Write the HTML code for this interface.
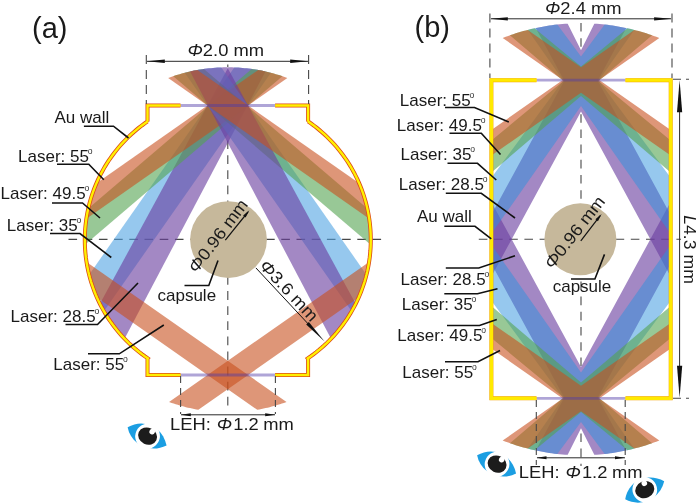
<!DOCTYPE html>
<html><head><meta charset="utf-8"><title>Hohlraum laser arrangement</title>
<style>
html,body{margin:0;padding:0;background:#fff;}
body{width:700px;height:503px;overflow:hidden;}
svg{display:block;will-change:transform;}
svg text{font-family:"Liberation Sans",sans-serif;fill:#1a1a1a;}
.it{font-style:italic;}
</style></head><body>
<svg width="700" height="503" viewBox="0 0 700 503">
<rect width="700" height="503" fill="#fff"/>
<line x1="68.5" y1="239.4" x2="384" y2="239.4" stroke="#474747" stroke-width="1.1" stroke-dasharray="8.6 6.6" stroke-dashoffset="0"/>
<line x1="227.8" y1="62" x2="227.8" y2="67.2" stroke="#474747" stroke-width="1.1" stroke-dasharray="8.8 6.3" stroke-dashoffset="12.5"/>
<line x1="227.8" y1="140.5" x2="227.8" y2="409" stroke="#474747" stroke-width="1.1" stroke-dasharray="8.8 6.3" stroke-dashoffset="0.4"/>
<line x1="478.8" y1="239.3" x2="681" y2="239.3" stroke="#474747" stroke-width="1.1" stroke-dasharray="8.6 6.6" stroke-dashoffset="0"/>
<line x1="581" y1="23" x2="581" y2="50" stroke="#474747" stroke-width="1.1" stroke-dasharray="8.6 6.6" stroke-dashoffset="0"/>
<line x1="581" y1="110" x2="581" y2="369" stroke="#474747" stroke-width="1.1" stroke-dasharray="8.6 6.6" stroke-dashoffset="11"/>
<line x1="581" y1="428.5" x2="581" y2="466" stroke="#474747" stroke-width="1.1" stroke-dasharray="8.6 6.6" stroke-dashoffset="10.3"/>
<g id="a-beams">
<polygon points="89.13,274.7 89.99,277.97 90.96,281.32 92.02,284.65 93.15,287.95 94.37,291.22 95.66,294.46 97.03,297.67 98.48,300.85 100.01,303.98 101.62,307.08 103.3,310.14 103.94,311.24 270.91,72.78 269.71,72.47 267.66,71.97 265.59,71.49 263.53,71.04 261.45,70.61 259.37,70.21 257.29,69.84 255.2,69.49 253.11,69.17 251.02,68.87 248.92,68.6 246.81,68.35 244.71,68.13 242.6,67.94 240.49,67.77 238.38,67.62 236.26,67.51 234.26,67.42" fill="#50a3e3" fill-opacity="0.6"/>
<polygon points="99.93,303.81 100.01,303.98 101.62,307.08 103.3,310.14 105.05,313.16 106.88,316.13 108.78,319.06 110.75,321.94 112.78,324.77 114.89,327.55 117.07,330.28 119.31,332.96 121.61,335.58 123.98,338.14 124.54,338.71 265.45,71.46 263.53,71.04 261.45,70.61 259.37,70.21 257.29,69.84 255.2,69.49 253.11,69.17 251.02,68.87 248.92,68.6 246.81,68.35 244.71,68.13 242.6,67.94 240.49,67.77 238.38,67.62 236.26,67.51 234.15,67.42 232.03,67.35 229.92,67.31 228.34,67.3" fill="#6a3fa0" fill-opacity="0.62"/>
<polygon points="88.26,208.53 88.18,208.89 87.47,212.3 86.84,215.74 86.29,219.18 85.83,222.64 85.46,226.11 85.16,229.59 84.96,233.07 84.84,236.56 84.8,240.05 84.85,243.54 84.9,244.8 282.36,76.16 281.91,76.01 279.9,75.35 277.87,74.73 275.84,74.13 273.81,73.55 271.76,73 269.71,72.47 267.66,71.97 265.59,71.49 263.53,71.04 261.45,70.61 259.37,70.21 257.29,69.84 255.2,69.49 253.11,69.17 251.68,68.96" fill="#53a350" fill-opacity="0.6"/>
<polygon points="96.43,183.35 95.47,185.6 94.19,188.85 92.98,192.12 91.86,195.43 90.82,198.76 89.86,202.11 88.98,205.49 88.18,208.89 87.47,212.3 86.84,215.74 86.38,218.67 287.39,77.92 285.91,77.38 283.92,76.68 281.91,76.01 279.9,75.35 277.87,74.73 275.84,74.13 273.81,73.55 271.76,73 269.71,72.47 267.66,71.97 265.59,71.49 263.53,71.04 261.45,70.61 259.37,70.21 258.28,70.02" fill="#c8501e" fill-opacity="0.6"/>
<polygon points="221.34,67.42 219.34,67.51 217.22,67.62 215.11,67.77 213,67.94 210.89,68.13 208.79,68.35 206.68,68.6 204.58,68.87 202.49,69.17 200.4,69.49 198.31,69.84 196.23,70.21 194.15,70.61 192.07,71.04 190.01,71.49 187.94,71.97 185.89,72.47 184.69,72.78 351.66,311.24 352.3,310.14 353.98,307.08 355.59,303.98 357.12,300.85 358.57,297.67 359.94,294.46 361.23,291.22 362.45,287.95 363.58,284.65 364.64,281.32 365.61,277.97 366.47,274.7" fill="#50a3e3" fill-opacity="0.6"/>
<polygon points="203.92,68.96 202.49,69.17 200.4,69.49 198.31,69.84 196.23,70.21 194.15,70.61 192.07,71.04 190.01,71.49 187.94,71.97 185.89,72.47 183.84,73 181.79,73.55 179.76,74.13 177.73,74.73 175.7,75.35 173.69,76.01 173.24,76.16 370.7,244.8 370.75,243.54 370.8,240.05 370.76,236.56 370.64,233.07 370.44,229.59 370.14,226.11 369.77,222.64 369.31,219.18 368.76,215.74 368.13,212.3 367.42,208.89 367.34,208.53" fill="#53a350" fill-opacity="0.6"/>
<polygon points="227.26,67.3 225.68,67.31 223.57,67.35 221.45,67.42 219.34,67.51 217.22,67.62 215.11,67.77 213,67.94 210.89,68.13 208.79,68.35 206.68,68.6 204.58,68.87 202.49,69.17 200.4,69.49 198.31,69.84 196.23,70.21 194.15,70.61 192.07,71.04 190.15,71.46 331.06,338.71 331.62,338.14 333.99,335.58 336.29,332.96 338.53,330.28 340.71,327.55 342.82,324.77 344.85,321.94 346.82,319.06 348.72,316.13 350.55,313.16 352.3,310.14 353.98,307.08 355.59,303.98 355.67,303.81" fill="#6a3fa0" fill-opacity="0.62"/>
<polygon points="197.32,70.02 196.23,70.21 194.15,70.61 192.07,71.04 190.01,71.49 187.94,71.97 185.89,72.47 183.84,73 181.79,73.55 179.76,74.13 177.73,74.73 175.7,75.35 173.69,76.01 171.68,76.68 169.69,77.38 168.21,77.92 369.22,218.67 368.76,215.74 368.13,212.3 367.42,208.89 366.62,205.49 365.74,202.11 364.78,198.76 363.74,195.43 362.62,192.12 361.41,188.85 360.13,185.6 359.17,183.35" fill="#c8501e" fill-opacity="0.6"/>
<polygon points="257.25,409.77 257.29,409.76 259.37,409.39 261.45,408.99 263.53,408.56 265.59,408.11 267.66,407.63 269.71,407.13 271.76,406.6 273.81,406.05 275.84,405.47 277.87,404.87 279.9,404.25 281.91,403.59 283.92,402.92 285.91,402.22 286.54,401.99 86.53,261.94 86.92,264.36 87.57,267.79 88.29,271.2 89.1,274.6 89.99,277.97 90.96,281.32 92.02,284.65 93.15,287.95 94.37,291.22 95.66,294.46 96.98,297.54" fill="#c8501e" fill-opacity="0.6"/>
<polygon points="358.62,297.54 359.94,294.46 361.23,291.22 362.45,287.95 363.58,284.65 364.64,281.32 365.61,277.97 366.5,274.6 367.31,271.2 368.03,267.79 368.68,264.36 369.07,261.94 169.06,401.99 169.69,402.22 171.68,402.92 173.69,403.59 175.7,404.25 177.73,404.87 179.76,405.47 181.79,406.05 183.84,406.6 185.89,407.13 187.94,407.63 190.01,408.11 192.07,408.56 194.15,408.99 196.23,409.39 198.31,409.76 198.35,409.77" fill="#c8501e" fill-opacity="0.6"/>
</g>
<line x1="180.5" y1="105.5" x2="275.1" y2="105.5" stroke="#513ba8" stroke-width="2.8" stroke-opacity="0.46"/>
<line x1="180.5" y1="375" x2="275.1" y2="375" stroke="#513ba8" stroke-width="2.8" stroke-opacity="0.46"/>
<path d="M180.5 105.5 L147.5 105.5 L147.5 121.5 L147.49 121.48 L144.62 123.48 L141.81 125.54 L139.05 127.67 L136.34 129.87 L133.68 132.14 L131.08 134.47 L128.54 136.86 L126.06 139.31 L123.64 141.82 L121.28 144.4 L118.98 147.02 L116.75 149.71 L114.58 152.44 L112.49 155.23 L110.46 158.07 L108.5 160.96 L106.61 163.89 L104.79 166.87 L103.05 169.9 L101.38 172.96 L99.79 176.07 L98.27 179.21 L96.83 182.39 L95.47 185.6 L94.19 188.85 L92.98 192.12 L91.86 195.43 L90.82 198.76 L89.86 202.11 L88.98 205.49 L88.18 208.89 L87.47 212.3 L86.84 215.74 L86.29 219.18 L85.83 222.64 L85.46 226.11 L85.16 229.59 L84.96 233.07 L84.84 236.56 L84.8 240.05 L84.85 243.54 L84.98 247.03 L85.2 250.51 L85.51 253.99 L85.89 257.46 L86.37 260.91 L86.92 264.36 L87.57 267.79 L88.29 271.2 L89.1 274.6 L89.99 277.97 L90.96 281.32 L92.02 284.65 L93.15 287.95 L94.37 291.22 L95.66 294.46 L97.03 297.67 L98.48 300.85 L100.01 303.98 L101.62 307.08 L103.3 310.14 L105.05 313.16 L106.88 316.13 L108.78 319.06 L110.75 321.94 L112.78 324.77 L114.89 327.55 L117.07 330.28 L119.31 332.96 L121.61 335.58 L123.98 338.14 L126.41 340.65 L128.91 343.09 L131.46 345.47 L134.06 347.79 L136.73 350.05 L139.44 352.24 L142.21 354.36 L145.03 356.41 L147.9 358.4 L147.5 359 L147.5 375 L180.5 375" fill="none" stroke="#dc4a18" stroke-width="4.0" stroke-linejoin="miter"/>
<path d="M275.1 105.5 L308.1 105.5 L308.1 121.5 L308.11 121.48 L310.98 123.48 L313.79 125.54 L316.55 127.67 L319.26 129.87 L321.92 132.14 L324.52 134.47 L327.06 136.86 L329.54 139.31 L331.96 141.82 L334.32 144.4 L336.62 147.02 L338.85 149.71 L341.02 152.44 L343.11 155.23 L345.14 158.07 L347.1 160.96 L348.99 163.89 L350.81 166.87 L352.55 169.9 L354.22 172.96 L355.81 176.07 L357.33 179.21 L358.77 182.39 L360.13 185.6 L361.41 188.85 L362.62 192.12 L363.74 195.43 L364.78 198.76 L365.74 202.11 L366.62 205.49 L367.42 208.89 L368.13 212.3 L368.76 215.74 L369.31 219.18 L369.77 222.64 L370.14 226.11 L370.44 229.59 L370.64 233.07 L370.76 236.56 L370.8 240.05 L370.75 243.54 L370.62 247.03 L370.4 250.51 L370.09 253.99 L369.71 257.46 L369.23 260.91 L368.68 264.36 L368.03 267.79 L367.31 271.2 L366.5 274.6 L365.61 277.97 L364.64 281.32 L363.58 284.65 L362.45 287.95 L361.23 291.22 L359.94 294.46 L358.57 297.67 L357.12 300.85 L355.59 303.98 L353.98 307.08 L352.3 310.14 L350.55 313.16 L348.72 316.13 L346.82 319.06 L344.85 321.94 L342.82 324.77 L340.71 327.55 L338.53 330.28 L336.29 332.96 L333.99 335.58 L331.62 338.14 L329.19 340.65 L326.69 343.09 L324.14 345.47 L321.54 347.79 L318.87 350.05 L316.16 352.24 L313.39 354.36 L310.57 356.41 L307.7 358.4 L308.1 359 L308.1 375 L275.1 375" fill="none" stroke="#dc4a18" stroke-width="4.0" stroke-linejoin="miter"/>
<path d="M180.5 105.5 L147.5 105.5 L147.5 121.5 L147.49 121.48 L144.62 123.48 L141.81 125.54 L139.05 127.67 L136.34 129.87 L133.68 132.14 L131.08 134.47 L128.54 136.86 L126.06 139.31 L123.64 141.82 L121.28 144.4 L118.98 147.02 L116.75 149.71 L114.58 152.44 L112.49 155.23 L110.46 158.07 L108.5 160.96 L106.61 163.89 L104.79 166.87 L103.05 169.9 L101.38 172.96 L99.79 176.07 L98.27 179.21 L96.83 182.39 L95.47 185.6 L94.19 188.85 L92.98 192.12 L91.86 195.43 L90.82 198.76 L89.86 202.11 L88.98 205.49 L88.18 208.89 L87.47 212.3 L86.84 215.74 L86.29 219.18 L85.83 222.64 L85.46 226.11 L85.16 229.59 L84.96 233.07 L84.84 236.56 L84.8 240.05 L84.85 243.54 L84.98 247.03 L85.2 250.51 L85.51 253.99 L85.89 257.46 L86.37 260.91 L86.92 264.36 L87.57 267.79 L88.29 271.2 L89.1 274.6 L89.99 277.97 L90.96 281.32 L92.02 284.65 L93.15 287.95 L94.37 291.22 L95.66 294.46 L97.03 297.67 L98.48 300.85 L100.01 303.98 L101.62 307.08 L103.3 310.14 L105.05 313.16 L106.88 316.13 L108.78 319.06 L110.75 321.94 L112.78 324.77 L114.89 327.55 L117.07 330.28 L119.31 332.96 L121.61 335.58 L123.98 338.14 L126.41 340.65 L128.91 343.09 L131.46 345.47 L134.06 347.79 L136.73 350.05 L139.44 352.24 L142.21 354.36 L145.03 356.41 L147.9 358.4 L147.5 359 L147.5 375 L180.5 375" fill="none" stroke="#fff000" stroke-width="2.4" stroke-linejoin="miter"/>
<path d="M275.1 105.5 L308.1 105.5 L308.1 121.5 L308.11 121.48 L310.98 123.48 L313.79 125.54 L316.55 127.67 L319.26 129.87 L321.92 132.14 L324.52 134.47 L327.06 136.86 L329.54 139.31 L331.96 141.82 L334.32 144.4 L336.62 147.02 L338.85 149.71 L341.02 152.44 L343.11 155.23 L345.14 158.07 L347.1 160.96 L348.99 163.89 L350.81 166.87 L352.55 169.9 L354.22 172.96 L355.81 176.07 L357.33 179.21 L358.77 182.39 L360.13 185.6 L361.41 188.85 L362.62 192.12 L363.74 195.43 L364.78 198.76 L365.74 202.11 L366.62 205.49 L367.42 208.89 L368.13 212.3 L368.76 215.74 L369.31 219.18 L369.77 222.64 L370.14 226.11 L370.44 229.59 L370.64 233.07 L370.76 236.56 L370.8 240.05 L370.75 243.54 L370.62 247.03 L370.4 250.51 L370.09 253.99 L369.71 257.46 L369.23 260.91 L368.68 264.36 L368.03 267.79 L367.31 271.2 L366.5 274.6 L365.61 277.97 L364.64 281.32 L363.58 284.65 L362.45 287.95 L361.23 291.22 L359.94 294.46 L358.57 297.67 L357.12 300.85 L355.59 303.98 L353.98 307.08 L352.3 310.14 L350.55 313.16 L348.72 316.13 L346.82 319.06 L344.85 321.94 L342.82 324.77 L340.71 327.55 L338.53 330.28 L336.29 332.96 L333.99 335.58 L331.62 338.14 L329.19 340.65 L326.69 343.09 L324.14 345.47 L321.54 347.79 L318.87 350.05 L316.16 352.24 L313.39 354.36 L310.57 356.41 L307.7 358.4 L308.1 359 L308.1 375 L275.1 375" fill="none" stroke="#fff000" stroke-width="2.4" stroke-linejoin="miter"/>
<g id="b-beams">
<polygon points="491.4,214.81 491.4,276.55 581,111.53 670.7,276.74 670.7,215 597.76,80.66 598.01,80.2 626.32,28.06 625.74,27.93 623.14,27.4 620.54,26.9 617.93,26.43 615.31,25.99 612.69,25.59 610.07,25.22 607.44,24.87 604.81,24.57 602.17,24.29 599.53,24.05 596.89,23.84 594.32,23.66 581,50.15 567.68,23.66 565.11,23.84 562.47,24.05 559.83,24.29 557.19,24.57 554.56,24.87 551.93,25.22 549.31,25.59 546.69,25.99 544.07,26.43 541.46,26.9 538.86,27.4 536.26,27.93 535.68,28.06 563.99,80.2 564.24,80.66" fill="#6a3fa0" fill-opacity="0.62"/>
<polygon points="535.68,450.44 536.26,450.57 538.86,451.1 541.46,451.6 544.07,452.07 546.69,452.51 549.31,452.91 551.93,453.28 554.56,453.63 557.19,453.93 559.83,454.21 562.47,454.45 565.11,454.66 567.68,454.84 581,428.35 594.32,454.84 596.89,454.66 599.53,454.45 602.17,454.21 604.81,453.93 607.44,453.63 610.07,453.28 612.69,452.91 615.31,452.51 617.93,452.07 620.54,451.6 623.14,451.1 625.74,450.57 626.32,450.44 598.01,398.3 597.76,397.84 670.7,263.5 670.7,201.76 581,366.97 491.4,201.95 491.4,263.69 564.24,397.84 563.99,398.3" fill="#6a3fa0" fill-opacity="0.62"/>
<polygon points="491.4,233.87 581,105.91 670.7,234.01 670.7,177.77 598.76,80.55 634.21,29.91 633.48,29.72 630.91,29.09 628.33,28.5 625.74,27.93 623.14,27.4 620.54,26.9 617.93,26.43 615.31,25.99 612.69,25.59 610.07,25.22 607.44,24.87 604.81,24.57 604.68,24.55 581,56.55 557.32,24.55 557.19,24.57 554.56,24.87 551.93,25.22 549.31,25.59 546.69,25.99 544.07,26.43 541.46,26.9 538.86,27.4 536.26,27.93 533.67,28.5 531.09,29.09 528.52,29.72 527.79,29.91 563.24,80.55 491.4,177.64" fill="#2d91dd" fill-opacity="0.5"/>
<polygon points="670.7,244.49 581,372.59 491.4,244.63 491.4,300.86 563.24,397.95 527.79,448.59 528.52,448.78 531.09,449.41 533.67,450 536.26,450.57 538.86,451.1 541.46,451.6 544.07,452.07 546.69,452.51 549.31,452.91 551.93,453.28 554.56,453.63 557.19,453.93 557.32,453.95 581,421.95 604.68,453.95 604.81,453.93 607.44,453.63 610.07,453.28 612.69,452.91 615.31,452.51 617.93,452.07 620.54,451.6 623.14,451.1 625.74,450.57 628.33,450 630.91,449.41 633.48,448.78 634.21,448.59 598.76,397.95 670.7,300.73" fill="#2d91dd" fill-opacity="0.5"/>
<polygon points="491.4,172.53 581,96 670.7,172.61 670.7,140.54 598.52,81.04 652.09,35.29 651.27,35 648.76,34.15 646.23,33.34 643.7,32.55 641.16,31.8 638.61,31.07 636.05,30.38 633.48,29.72 630.91,29.09 628.33,28.5 627.45,28.31 581,66.6 534.55,28.31 533.67,28.5 531.09,29.09 528.52,29.72 525.95,30.38 523.39,31.07 520.84,31.8 518.3,32.55 515.77,33.34 513.24,34.15 510.73,35 509.91,35.29 563.48,81.04 491.4,140.46" fill="#53a350" fill-opacity="0.6"/>
<polygon points="670.7,305.89 581,382.5 491.4,305.97 491.4,338.04 563.48,397.46 509.91,443.21 510.73,443.5 513.24,444.35 515.77,445.16 518.3,445.95 520.84,446.7 523.39,447.43 525.95,448.12 528.52,448.78 531.09,449.41 533.67,450 534.55,450.19 581,411.9 627.45,450.19 628.33,450 630.91,449.41 633.48,448.78 636.05,448.12 638.61,447.43 641.16,446.7 643.7,445.95 646.23,445.16 648.76,444.35 651.27,443.5 652.09,443.21 598.52,397.46 670.7,337.96" fill="#53a350" fill-opacity="0.6"/>
<polygon points="491.4,155.54 581,92.8 670.7,155.61 670.7,130.05 599.25,80.02 659.33,37.96 658.74,37.72 656.26,36.78 653.77,35.88 651.27,35 648.76,34.15 646.23,33.34 643.7,32.55 641.16,31.8 638.61,31.07 636.05,30.38 634.29,29.93 581,67.25 527.71,29.93 525.95,30.38 523.39,31.07 520.84,31.8 518.3,32.55 515.77,33.34 513.24,34.15 510.73,35 508.23,35.88 505.74,36.78 503.26,37.72 502.67,37.96 562.75,80.02 491.4,129.98" fill="#c8501e" fill-opacity="0.6"/>
<polygon points="670.7,322.89 581,385.7 491.4,322.96 491.4,348.52 562.75,398.48 502.67,440.54 503.26,440.78 505.74,441.72 508.23,442.62 510.73,443.5 513.24,444.35 515.77,445.16 518.3,445.95 520.84,446.7 523.39,447.43 525.95,448.12 527.71,448.57 581,411.25 634.29,448.57 636.05,448.12 638.61,447.43 641.16,446.7 643.7,445.95 646.23,445.16 648.76,444.35 651.27,443.5 653.77,442.62 656.26,441.72 658.74,440.78 659.33,440.54 599.25,398.48 670.7,348.45" fill="#c8501e" fill-opacity="0.6"/>
</g>
<line x1="536.5" y1="80.2" x2="625.5" y2="80.2" stroke="#513ba8" stroke-width="2.8" stroke-opacity="0.46"/>
<line x1="536.5" y1="398.3" x2="625.5" y2="398.3" stroke="#513ba8" stroke-width="2.8" stroke-opacity="0.46"/>
<path d="M536.5 80.2 L491.4 80.2 L491.4 398.3 L536.5 398.3" fill="none" stroke="#f2a100" stroke-width="4.0" stroke-linejoin="miter"/>
<path d="M625.5 80.2 L670.7 80.2 L670.7 398.3 L625.5 398.3" fill="none" stroke="#f2a100" stroke-width="4.0" stroke-linejoin="miter"/>
<path d="M536.5 80.2 L491.4 80.2 L491.4 398.3 L536.5 398.3" fill="none" stroke="#ffea00" stroke-width="3.2" stroke-linejoin="miter"/>
<path d="M625.5 80.2 L670.7 80.2 L670.7 398.3 L625.5 398.3" fill="none" stroke="#ffea00" stroke-width="3.2" stroke-linejoin="miter"/>
<line x1="146.3" y1="55" x2="146.3" y2="104" stroke="#474747" stroke-width="1.1" stroke-dasharray="9 6" stroke-dashoffset="0"/>
<line x1="308.6" y1="55" x2="308.6" y2="104" stroke="#474747" stroke-width="1.1" stroke-dasharray="9 6" stroke-dashoffset="0"/>
<line x1="147" y1="61.3" x2="308" y2="61.3" stroke="#2a2a2a" stroke-width="1.0"/>
<polygon points="146.8,61.3 164.8,59.6 164.8,63" fill="#111"/>
<polygon points="308.2,61.3 290.2,63 290.2,59.6" fill="#111"/>
<text transform="translate(187.5,55.6) scale(1.08,1)" font-size="17" text-anchor="start" ><tspan class="it">&#934;</tspan>2.0 mm</text>
<line x1="180.6" y1="376" x2="180.6" y2="414" stroke="#474747" stroke-width="1.1" stroke-dasharray="7 5" stroke-dashoffset="0"/>
<line x1="275.4" y1="376" x2="275.4" y2="414" stroke="#474747" stroke-width="1.1" stroke-dasharray="7 5" stroke-dashoffset="0"/>
<line x1="181" y1="414.8" x2="275" y2="414.8" stroke="#2a2a2a" stroke-width="1.0"/>
<polygon points="180.8,414.8 190.8,413.3 190.8,416.3" fill="#111"/>
<polygon points="275.2,414.8 265.2,416.3 265.2,413.3" fill="#111"/>
<text transform="translate(170.1,430) scale(1.08,1)" font-size="17" text-anchor="start" >LEH:</text>
<text transform="translate(216.8,430) scale(1.08,1)" font-size="17" text-anchor="start" ><tspan class="it">&#934;</tspan></text>
<text transform="translate(233.2,430) scale(1.08,1)" font-size="17" text-anchor="start" >1.2</text>
<text transform="translate(263.2,430) scale(1.08,1)" font-size="17" text-anchor="start" >mm</text>
<circle cx="228.5" cy="239.6" r="38.4" fill="#c6b89b"/>
<line x1="225.3" y1="240.1" x2="248" y2="212" stroke="#111" stroke-width="1.2"/>
<polygon points="249.4,210.2 245.62,217.43 243.13,215.42" fill="#111"/>
<text transform="translate(196.6,274.0) rotate(-53) scale(1.08,1)" font-size="17"><tspan class="it">&#934;</tspan>0.96 mm</text>
<line x1="255.9" y1="267.9" x2="312" y2="328" stroke="#111" stroke-width="1.0"/>
<polygon points="324.6,341.6 306.2,324.58 308.83,322.12" fill="#111"/>
<text transform="translate(258.6,266.6) rotate(47) scale(1.08,1)" font-size="17"><tspan class="it">&#934;</tspan>3.6 mm</text>
<text x="32" y="37.5" font-size="29" text-anchor="start" >(a)</text>
<text x="54.5" y="122.5" font-size="17" text-anchor="start" >Au wall</text>
<polyline points="83.9,126.2 113.5,126.2 128.5,138" fill="none" stroke="#111" stroke-width="1.6" stroke-linejoin="miter"/>
<text x="18.1" y="162" font-size="17" text-anchor="start" >Laser: 55<tspan font-size="8.6" dy="-8" dx="-1.2" fill="#333">o</tspan></text>
<polyline points="57,164.3 88.8,164.3 103.8,179.8" fill="none" stroke="#111" stroke-width="1.6" stroke-linejoin="miter"/>
<text x="0.6" y="199.2" font-size="17" text-anchor="start" >Laser: 49.5<tspan font-size="8.6" dy="-8" dx="-1.2" fill="#333">o</tspan></text>
<polyline points="52,203 82.5,203 100,218" fill="none" stroke="#111" stroke-width="1.6" stroke-linejoin="miter"/>
<text x="6.8" y="230.7" font-size="17" text-anchor="start" >Laser: 35<tspan font-size="8.6" dy="-8" dx="-1.2" fill="#333">o</tspan></text>
<polyline points="50,233.5 80,233.5 111.3,257.5" fill="none" stroke="#111" stroke-width="1.6" stroke-linejoin="miter"/>
<text x="10.6" y="321.5" font-size="17" text-anchor="start" >Laser: 28.5<tspan font-size="8.6" dy="-8" dx="-1.2" fill="#333">o</tspan></text>
<polyline points="65.5,324.5 97.5,324.5 138,283" fill="none" stroke="#111" stroke-width="1.6" stroke-linejoin="miter"/>
<text x="53.3" y="369.7" font-size="17" text-anchor="start" >Laser: 55<tspan font-size="8.6" dy="-8" dx="-1.2" fill="#333">o</tspan></text>
<polyline points="88,353.8 119.3,353.8 163.8,325" fill="none" stroke="#111" stroke-width="1.6" stroke-linejoin="miter"/>
<text x="157.5" y="300.5" font-size="17" text-anchor="start" >capsule</text>
<polyline points="184.5,285.5 208.8,285.5 218,260.5" fill="none" stroke="#111" stroke-width="1.6" stroke-linejoin="miter"/>
<line x1="489.9" y1="13.5" x2="489.9" y2="78" stroke="#474747" stroke-width="1.1" stroke-dasharray="9 6" stroke-dashoffset="0"/>
<line x1="672" y1="13.5" x2="672" y2="78" stroke="#474747" stroke-width="1.1" stroke-dasharray="9 6" stroke-dashoffset="0"/>
<line x1="491" y1="18.8" x2="671" y2="18.8" stroke="#2a2a2a" stroke-width="1.0"/>
<polygon points="490.3,18.8 507.8,17.2 507.8,20.4" fill="#111"/>
<polygon points="671.6,18.8 654.1,20.4 654.1,17.2" fill="#111"/>
<text transform="translate(545,14.2) scale(1.08,1)" font-size="17" text-anchor="start" ><tspan class="it">&#934;</tspan>2.4 mm</text>
<line x1="673" y1="79.3" x2="689" y2="79.3" stroke="#474747" stroke-width="1.1" stroke-dasharray="8 5" stroke-dashoffset="0"/>
<line x1="673" y1="398.3" x2="689" y2="398.3" stroke="#474747" stroke-width="1.1" stroke-dasharray="8 5" stroke-dashoffset="0"/>
<line x1="679.6" y1="100" x2="679.6" y2="380" stroke="#2a2a2a" stroke-width="1.0"/>
<polygon points="679.6,80.3 682.2,112.3 677,112.3" fill="#111"/>
<polygon points="679.6,397.8 677,365.8 682.2,365.8" fill="#111"/>
<text transform="translate(684.4,215.2) rotate(90) scale(1.04,1)" font-size="17"><tspan class="it">L</tspan>4.3 mm</text>
<line x1="536.3" y1="400" x2="536.3" y2="465" stroke="#474747" stroke-width="1.1" stroke-dasharray="7 5" stroke-dashoffset="0"/>
<line x1="625.2" y1="400" x2="625.2" y2="465" stroke="#474747" stroke-width="1.1" stroke-dasharray="7 5" stroke-dashoffset="0"/>
<line x1="537" y1="457.8" x2="625" y2="457.8" stroke="#2a2a2a" stroke-width="1.0"/>
<polygon points="536.5,457.8 546.5,456.3 546.5,459.3" fill="#111"/>
<polygon points="625,457.8 615,459.3 615,456.3" fill="#111"/>
<text transform="translate(518.8,478.3) scale(1.08,1)" font-size="17" text-anchor="start" >LEH:</text>
<text transform="translate(565.5,478.3) scale(1.08,1)" font-size="17" text-anchor="start" ><tspan class="it">&#934;</tspan></text>
<text transform="translate(581.9,478.3) scale(1.08,1)" font-size="17" text-anchor="start" >1.2</text>
<text transform="translate(611.9,478.3) scale(1.08,1)" font-size="17" text-anchor="start" >mm</text>
<circle cx="580.4" cy="239.2" r="36" fill="#c6b89b"/>
<line x1="580.8" y1="240.8" x2="600.2" y2="215.7" stroke="#111" stroke-width="1.2"/>
<polygon points="601.6,213.9 597.97,221.21 595.44,219.25" fill="#111"/>
<text transform="translate(552.5,270) rotate(-52) scale(1.08,1)" font-size="17"><tspan class="it">&#934;</tspan>0.96 mm</text>
<text x="552.7" y="292.1" font-size="17" text-anchor="start" >capsule</text>
<polyline points="571,279 594.9,279 604.5,254.4" fill="none" stroke="#111" stroke-width="1.6" stroke-linejoin="miter"/>
<text x="414.5" y="37" font-size="29" text-anchor="start" >(b)</text>
<text x="399.8" y="105.7" font-size="17" text-anchor="start" >Laser: 55<tspan font-size="8.6" dy="-8" dx="-1.2" fill="#333">o</tspan></text>
<polyline points="445,107.5 474.5,107.5 508.8,122" fill="none" stroke="#111" stroke-width="1.6" stroke-linejoin="miter"/>
<text x="396.8" y="130.7" font-size="17" text-anchor="start" >Laser: 49.5<tspan font-size="8.6" dy="-8" dx="-1.2" fill="#333">o</tspan></text>
<polyline points="449.5,133.3 481.3,133.3 500.5,154.5" fill="none" stroke="#111" stroke-width="1.6" stroke-linejoin="miter"/>
<text x="400.6" y="160.2" font-size="17" text-anchor="start" >Laser: 35<tspan font-size="8.6" dy="-8" dx="-1.2" fill="#333">o</tspan></text>
<polyline points="447.5,163.3 477.5,163.3 496.3,180" fill="none" stroke="#111" stroke-width="1.6" stroke-linejoin="miter"/>
<text x="398.8" y="189.7" font-size="17" text-anchor="start" >Laser: 28.5<tspan font-size="8.6" dy="-8" dx="-1.2" fill="#333">o</tspan></text>
<polyline points="445.8,193.3 481.3,193.3 515,218" fill="none" stroke="#111" stroke-width="1.6" stroke-linejoin="miter"/>
<text x="417" y="222" font-size="17" text-anchor="start" >Au wall</text>
<polyline points="444.3,226.3 475,226.3 491.3,238.8" fill="none" stroke="#111" stroke-width="1.6" stroke-linejoin="miter"/>
<text x="400.6" y="284.5" font-size="17" text-anchor="start" >Laser: 28.5<tspan font-size="8.6" dy="-8" dx="-1.2" fill="#333">o</tspan></text>
<polyline points="445.8,268 478.8,268 515,255.8" fill="none" stroke="#111" stroke-width="1.6" stroke-linejoin="miter"/>
<text x="401.8" y="310.2" font-size="17" text-anchor="start" >Laser: 35<tspan font-size="8.6" dy="-8" dx="-1.2" fill="#333">o</tspan></text>
<polyline points="444.3,293.8 477.5,293.8 497.5,288.8" fill="none" stroke="#111" stroke-width="1.6" stroke-linejoin="miter"/>
<text x="397.3" y="341" font-size="17" text-anchor="start" >Laser: 49.5<tspan font-size="8.6" dy="-8" dx="-1.2" fill="#333">o</tspan></text>
<polyline points="447,325.5 479.5,325.5 496.8,319.5" fill="none" stroke="#111" stroke-width="1.6" stroke-linejoin="miter"/>
<text x="402.3" y="377.7" font-size="17" text-anchor="start" >Laser: 55<tspan font-size="8.6" dy="-8" dx="-1.2" fill="#333">o</tspan></text>
<polyline points="445,361.8 478,361.8 500,350.5" fill="none" stroke="#111" stroke-width="1.6" stroke-linejoin="miter"/>
<g transform="translate(147.3,436) rotate(25) scale(1,1)">
<path d="M-21.5,0.5 C-11,-14.9 10,-14.9 21.5,0.5 C10,14.9 -11,14.9 -21.5,0.5 Z" fill="#1b9ee2"/>
<ellipse cx="0.3" cy="0" rx="12.3" ry="12.6" fill="#fff"/>
<ellipse cx="0.3" cy="0" rx="9.7" ry="8.4" fill="#1c1c1c"/>
<circle cx="2.6" cy="-6.0" r="2.8" fill="#fff"/>
</g>
<g transform="translate(496.8,464) rotate(25) scale(1,1)">
<path d="M-21.5,0.5 C-11,-14.9 10,-14.9 21.5,0.5 C10,14.9 -11,14.9 -21.5,0.5 Z" fill="#1b9ee2"/>
<ellipse cx="0.3" cy="0" rx="12.3" ry="12.6" fill="#fff"/>
<ellipse cx="0.3" cy="0" rx="9.7" ry="8.4" fill="#1c1c1c"/>
<circle cx="2.6" cy="-6.0" r="2.8" fill="#fff"/>
</g>
<g transform="translate(644.5,489.8) rotate(-25) scale(1,1)">
<path d="M-21.5,0.5 C-11,-14.9 10,-14.9 21.5,0.5 C10,14.9 -11,14.9 -21.5,0.5 Z" fill="#1b9ee2"/>
<ellipse cx="0.3" cy="0" rx="12.3" ry="12.6" fill="#fff"/>
<ellipse cx="0.3" cy="0" rx="9.7" ry="8.4" fill="#1c1c1c"/>
<circle cx="2.6" cy="-6.0" r="2.8" fill="#fff"/>
</g>
</svg>
</body></html>
